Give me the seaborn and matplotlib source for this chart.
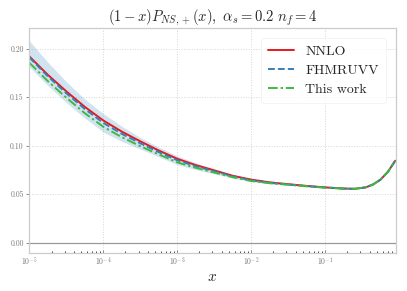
import numpy as np
import pandas as pd
import seaborn as sns
import matplotlib
matplotlib.use("Agg")
import matplotlib.pyplot as plt

# log10(x) sample positions
log_x = [-5.0, -4.75, -4.5, -4.25, -4.0, -3.75, -3.5, -3.25, -3.0, -2.75, -2.5, -2.25,
         -2.0, -1.75, -1.5, -1.25, -1.0, -0.75, -0.6, -0.45, -0.35, -0.25, -0.15, -0.05]
nnlo = [0.192, 0.173, 0.156, 0.140, 0.126, 0.1145, 0.1045, 0.095, 0.0865, 0.080, 0.0745, 0.069,
        0.0650, 0.0622, 0.0603, 0.0585, 0.0570, 0.0558, 0.0555, 0.0570, 0.0600, 0.0650, 0.0730, 0.0845]
fhmruvv = [0.191, 0.1715, 0.154, 0.1378, 0.1235, 0.1122, 0.1025, 0.0933, 0.0850, 0.0788, 0.0736, 0.0684,
           0.0643, 0.0617, 0.0600, 0.0583, 0.0569, 0.0558, 0.0555, 0.0570, 0.0600, 0.0650, 0.0730, 0.0845]
this_work = [0.1855, 0.1665, 0.1495, 0.1335, 0.1195, 0.1088, 0.0995, 0.0910, 0.0828, 0.0772, 0.0723, 0.0675,
             0.0636, 0.0613, 0.0597, 0.0581, 0.0567, 0.0557, 0.0555, 0.0570, 0.0600, 0.0650, 0.0730, 0.0845]
band_hi = [0.208, 0.186, 0.166, 0.148, 0.133, 0.120, 0.1085, 0.0985, 0.0895, 0.0823, 0.0763, 0.0702,
           0.0658, 0.0627, 0.0607, 0.0587, 0.0572, 0.0560, 0.0556, 0.0571, 0.0601, 0.0651, 0.0731, 0.0846]
band_lo = [0.181, 0.162, 0.1445, 0.1285, 0.114, 0.1045, 0.0965, 0.0885, 0.0805, 0.0753, 0.0709, 0.0666,
           0.0628, 0.0607, 0.0593, 0.0579, 0.0566, 0.0556, 0.0554, 0.0569, 0.0599, 0.0649, 0.0729, 0.0844]

labels = ["NNLO", "FHMRUVV", "This work"]
colors = ["#e41a1c", "#377eb8", "#3fb93f"]
dashes = ["", (3.5, 1.6), (5, 1.5, 1.2, 1.5)]

sns.set_theme(style="whitegrid")
plt.rcParams["font.family"] = ["cmr10", "DejaVu Serif"]
plt.rcParams["mathtext.fontset"] = "cm"
plt.rcParams["axes.formatter.use_mathtext"] = True
plt.rcParams["axes.unicode_minus"] = False

x = 10.0 ** np.array(log_x)
df = pd.DataFrame({"x": np.concatenate([x, x, x]),
                   "y": np.concatenate([nnlo, fhmruvv, this_work]),
                   "series": np.repeat(labels, len(x))})

fig, ax = plt.subplots(figsize=(4.07, 2.91), dpi=100)
fig.subplots_adjust(left=0.072, right=0.972, top=0.903, bottom=0.131)

ax.fill_between(x, band_lo, band_hi, color="#1f77b4", alpha=0.2, lw=0)
ax.axhline(0.0, color="#999999", lw=0.9)
sns.lineplot(data=df, x="x", y="y", hue="series", style="series",
             palette=colors, dashes=dashes, lw=1.4, ax=ax, legend=True)
ax.set_xscale("log")
ax.set_xlim(1e-5, 0.9)
ax.set_ylim(-0.0105, 0.221)
ax.set_yticks([0.0, 0.05, 0.10, 0.15, 0.20])
ax.set_yticklabels(["0.00", "0.05", "0.10", "0.15", "0.20"])
ax.tick_params(axis="both", labelsize=5.5, colors="#777777", labelcolor="#777777")
ax.tick_params(axis="x", which="both", direction="in", length=2.5, width=0.6, bottom=True, pad=2)
ax.tick_params(axis="x", which="minor", length=1.5)
ax.tick_params(axis="y", direction="out", length=2, width=0.6, left=True, pad=2)
ax.grid(True, which="major", ls=":", color="#d5d5d5", lw=0.7)
ax.grid(False, which="minor")
for s in ax.spines.values():
    s.set_color("#cccccc")
    s.set_linewidth(0.9)

ax.set_xlabel(r"$x$", fontsize=11, labelpad=1)
ax.set_ylabel("")
ax.set_title(r"$(1-x)P_{NS,+}(x),\ \alpha_s=$0.2 $n_f=$4", fontsize=10.5, pad=5)
leg = ax.legend(loc="upper right", fontsize=10, frameon=True, handlelength=1.9,
                borderpad=0.5, labelspacing=0.45, handletextpad=0.8, borderaxespad=0.7)
leg.get_frame().set_edgecolor("#f0f0f0")
leg.get_frame().set_linewidth(0.6)

fig.savefig("out.png", dpi=100)
